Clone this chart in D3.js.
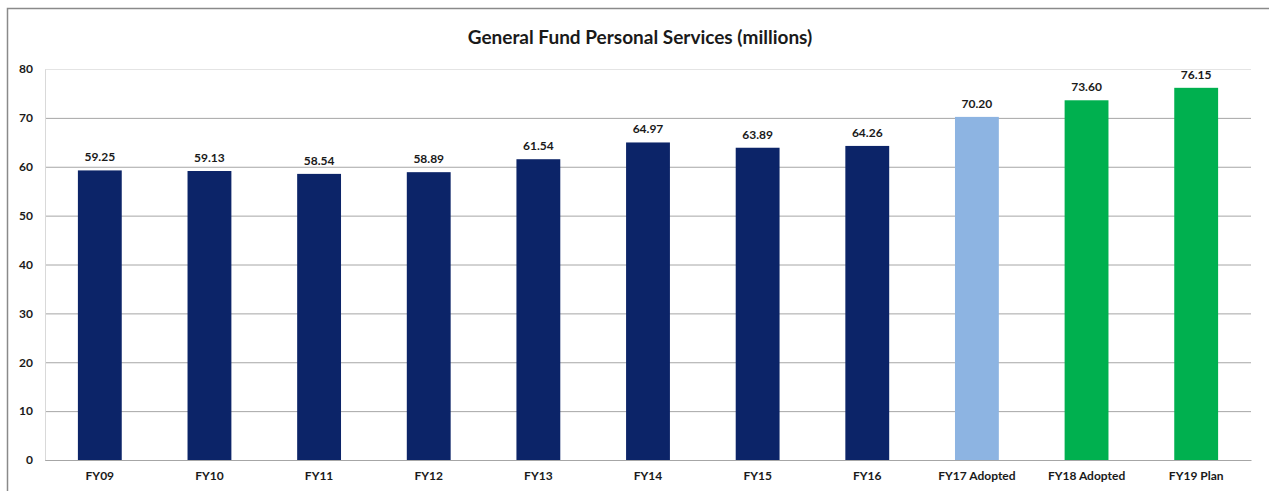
<!DOCTYPE html>
<html>
<head>
<meta charset="utf-8">
<script src="https://cdn.jsdelivr.net/npm/d3@7/dist/d3.min.js"></script>
<style>
  html, body { margin: 0; padding: 0; background: #ffffff; }
  svg { display: block; }
  text { font-family: Lato, "Open Sans", "Liberation Sans", sans-serif; }
</style>
</head>
<body>
<svg id="chart" width="1269" height="491"></svg>
<script>
// Fiscal years shown on the x axis
const categories = ["FY09", "FY10", "FY11", "FY12", "FY13", "FY14", "FY15", "FY16",
                    "FY17 Adopted", "FY18 Adopted", "FY19 Plan"];
// Personal services spending, millions
const values = [59.25, 59.13, 58.54, 58.89, 61.54, 64.97, 63.89, 64.26, 70.20, 73.60, 76.15];
// Budget stage for each year: actual, adopted (current), adopted/plan (future)
const stages = ["actual", "actual", "actual", "actual", "actual", "actual", "actual", "actual",
                "current", "future", "future"];
const yTicks = [0, 10, 20, 30, 40, 50, 60, 70, 80];
const title = "General Fund Personal Services (millions)";

const stageColor = { actual: "#0c2468", current: "#8db4e2", future: "#00b04f" };

const svg = d3.select("#chart");
const W = 1269, H = 491;
const margin = { left: 45, right: 18, top: 69, bottom: 31 };

// outer frame
svg.append("rect")
  .attr("x", 7.5).attr("y", 8.5)
  .attr("width", W - 7.5 + 5).attr("height", H - 8.5 + 5)
  .attr("fill", "#ffffff")
  .attr("stroke", "#8a8a8a").attr("stroke-width", 1.5);

const x = d3.scaleBand()
  .domain(categories)
  .range([margin.left, W - margin.right])
  .paddingInner(0.6).paddingOuter(0.3);

const y = d3.scaleLinear()
  .domain([0, 80])
  .range([H - margin.bottom, margin.top]);

// horizontal gridlines
const grid = svg.append("g")
  .attr("transform", `translate(${margin.left},0)`)
  .call(d3.axisLeft(y).tickValues(yTicks).tickSize(-(W - margin.right - margin.left)).tickFormat(""));
grid.select(".domain").remove();
grid.selectAll(".tick line").attr("stroke", "#a6a6a6").attr("stroke-width", 1);
grid.selectAll(".tick").filter(d => d === 80).select("line").attr("stroke", "#e4e4e4");

// y axis labels
const yAxis = svg.append("g")
  .attr("transform", `translate(${margin.left},0)`)
  .call(d3.axisLeft(y).tickValues(yTicks).tickSize(0).tickPadding(12));
yAxis.select(".domain").attr("stroke", "#d9d9d9");
yAxis.selectAll("text")
  .attr("font-size", 12).attr("font-weight", "bold").attr("fill", "#1a1a1a");

// bars
svg.append("g").selectAll("rect")
  .data(categories)
  .join("rect")
  .attr("x", d => x(d))
  .attr("width", x.bandwidth())
  .attr("y", (d, i) => y(values[i]))
  .attr("height", (d, i) => y(0) - y(values[i]))
  .attr("fill", (d, i) => stageColor[stages[i]]);

// value labels
svg.append("g").selectAll("text")
  .data(categories)
  .join("text")
  .attr("x", d => x(d) + x.bandwidth() / 2)
  .attr("y", (d, i) => y(values[i]) - 9)
  .attr("text-anchor", "middle")
  .attr("font-size", 12).attr("font-weight", "bold").attr("fill", "#1a1a1a")
  .text((d, i) => values[i].toFixed(2));

// x axis
const xAxis = svg.append("g")
  .attr("transform", `translate(0,${y(0)})`)
  .call(d3.axisBottom(x).tickSize(0).tickPadding(11));
xAxis.select(".domain").attr("stroke", "#a6a6a6");
xAxis.selectAll("text")
  .attr("font-size", 12).attr("font-weight", "bold").attr("fill", "#1a1a1a");

// title
svg.append("text")
  .attr("x", 640).attr("y", 44)
  .attr("text-anchor", "middle")
  .attr("font-size", 19).attr("font-weight", "bold").attr("fill", "#1a1a1a")
  .text(title);
</script>
</body>
</html>
